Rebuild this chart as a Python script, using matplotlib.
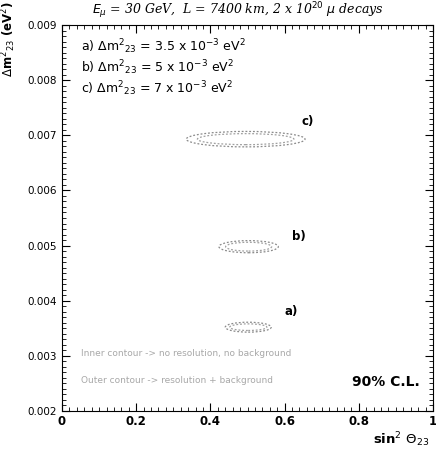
import matplotlib
matplotlib.use("Agg")
import matplotlib.pyplot as plt
from matplotlib.patches import Ellipse
from matplotlib.ticker import MultipleLocator

# Data
labels = ["a)", "b)", "c)"]
center_s2 = [0.502, 0.503, 0.495]          # sin^2 theta23 centres
center_dm = [0.00352, 0.00498, 0.00693]   # Delta m^2_23 centres (eV^2)
outer_halfw = [0.062, 0.080, 0.160]
outer_halfh = [0.00009, 0.00011, 0.00014]
inner_halfw = [0.050, 0.062, 0.130]
inner_halfh = [0.00006, 0.00008, 0.00010]
label_s2 = [0.600, 0.620, 0.645]
label_dm = [0.00380, 0.00517, 0.00725]
legend_lines = [r"a) $\Delta$m$^{2}$$_{23}$ = 3.5 x 10$^{-3}$ eV$^{2}$",
                r"b) $\Delta$m$^{2}$$_{23}$ = 5 x 10$^{-3}$ eV$^{2}$",
                r"c) $\Delta$m$^{2}$$_{23}$ = 7 x 10$^{-3}$ eV$^{2}$"]
xticks = [0, 0.2, 0.4, 0.6, 0.8, 1]
xticklabels = ["0", "0.2", "0.4", "0.6", "0.8", "1"]
yticks = [0.002, 0.003, 0.004, 0.005, 0.006, 0.007, 0.008, 0.009]
yticklabels = ["0.002", "0.003", "0.004", "0.005", "0.006", "0.007", "0.008", "0.009"]

plt.rcParams['mathtext.fontset'] = 'dejavusans'
fig = plt.figure(figsize=(4.36, 4.5), dpi=100)
ax = fig.add_axes([62/436, 39/450, 371/436, 386/450])
ax.set_xlim(0, 1)
ax.set_ylim(0.002, 0.009)

for i in range(len(labels)):
    e_out = Ellipse((center_s2[i], center_dm[i]), 2*outer_halfw[i], 2*outer_halfh[i],
                    fill=False, ls=(0, (1.5, 1.5)), lw=0.9, color="#8a8a8a")
    e_in = Ellipse((center_s2[i], center_dm[i]), 2*inner_halfw[i], 2*inner_halfh[i],
                   fill=False, ls=(0, (1.5, 1.5)), lw=0.9, color="#a0a0a0")
    ax.add_patch(e_out)
    ax.add_patch(e_in)
    ax.text(label_s2[i], label_dm[i], labels[i], fontsize=8.5, fontweight='bold',
            ha='left', va='center')

for k, t in enumerate(legend_lines):
    ax.text(0.05, 0.0086 - k*0.00038, t, fontsize=9, ha='left', va='center')

ax.text(0.05, 0.00305, "Inner contour -> no resolution, no background",
        fontsize=6.5, color="#a8a8a8", ha='left', va='center')
ax.text(0.05, 0.00256, "Outer contour -> resolution + background",
        fontsize=6.5, color="#a8a8a8", ha='left', va='center')
ax.text(0.965, 0.00252, "90% C.L.", fontsize=10, fontweight='bold',
        ha='right', va='center')

ax.set_xticks(xticks)
ax.set_xticklabels(xticklabels, fontsize=8.5, fontweight='bold')
ax.set_yticks(yticks)
ax.set_yticklabels(yticklabels, fontsize=7.5)
ax.xaxis.set_minor_locator(MultipleLocator(0.02))
ax.yaxis.set_minor_locator(MultipleLocator(0.0001))
ax.tick_params(which='both', direction='in', top=True, right=True)
ax.tick_params(which='major', length=6, width=0.8)
ax.tick_params(which='minor', length=3, width=0.6)
ax.tick_params(axis='x', pad=3)
for sp in ax.spines.values():
    sp.set_linewidth(0.8)

fig.text(0.546, 0.977, r"$E_{\mu}$ = 30 GeV,  L = 7400 km, 2 x 10$^{20}$ $\mu$ decays",
         fontsize=9, fontstyle='italic', family='DejaVu Serif', ha='center', va='center')
fig.text(0.02, 0.996, r"$\Delta$m$^{2}$$_{23}$ (eV$^{2}$)", fontsize=8.5,
         fontweight='bold', rotation=90, ha='center', va='top')
fig.text(0.985, 0.022, r"sin$^{2}$ $\Theta_{23}$", fontsize=9.5, fontweight='bold',
         ha='right', va='center')

fig.savefig("out.png", dpi=100)
